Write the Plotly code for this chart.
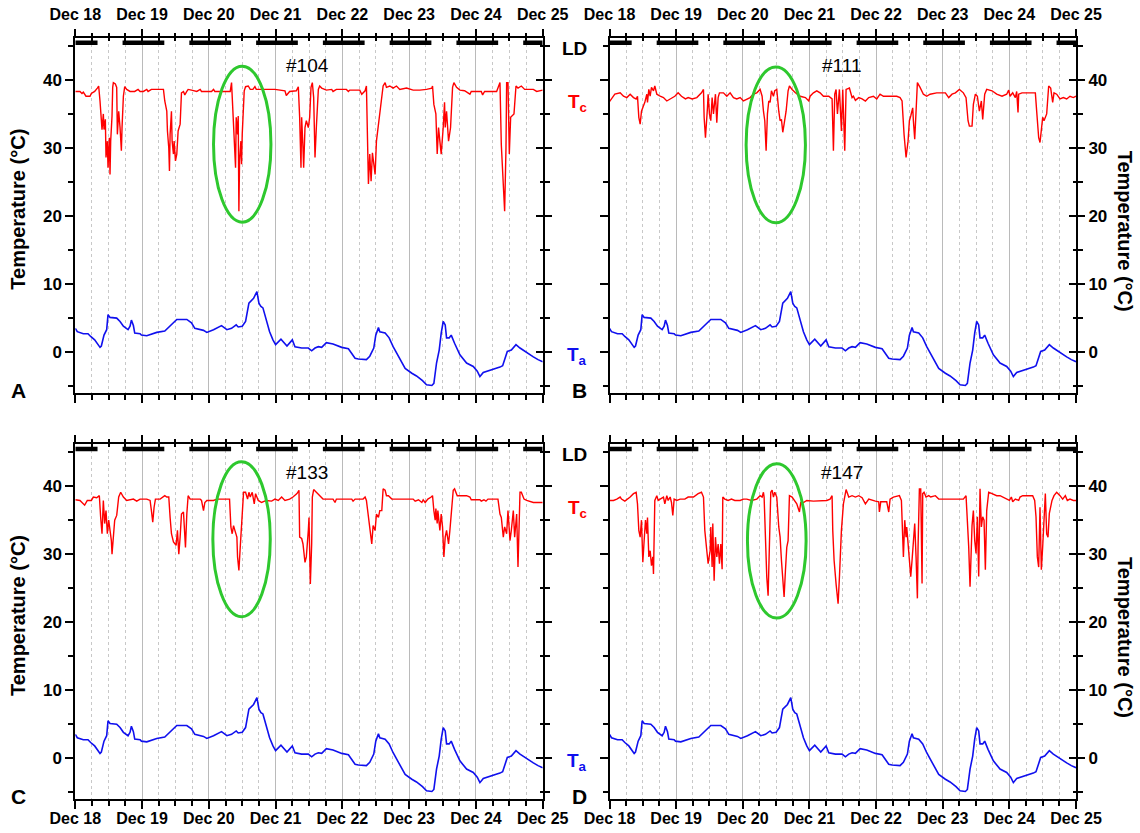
import pandas as pd
import plotly.graph_objects as go

BASE = pd.Timestamp("2012-12-18")
END = pd.Timestamp("2012-12-25")

# ---------------- data ----------------
day_labels = ["Dec 18", "Dec 19", "Dec 20", "Dec 21", "Dec 22", "Dec 23", "Dec 24", "Dec 25"]
temp_ticks = [0, 10, 20, 30, 40]

# light:dark cycle, dark phases (days after Dec 18 00:00)
ld_dark_start = [0.0, 0.708, 1.708, 2.708, 3.708, 4.708, 5.708, 6.708]
ld_dark_end = [0.333, 1.333, 2.333, 3.333, 4.333, 5.333, 6.333, 7.0]

animal_ids = ["#104", "#111", "#133", "#147"]
panel_letters = ["A", "B", "C", "D"]

# ambient temperature Ta (days, deg C)
ta = [(0.00, 3.5), (0.03, 3.0), (0.12, 2.7), (0.19, 2.7), (0.23, 2.3), (0.29, 1.8), (0.37, 0.7), (0.39, 0.9),
      (0.43, 2.5), (0.47, 3.3), (0.49, 5.5), (0.52, 5.1), (0.62, 5.0), (0.67, 4.5), (0.72, 3.8), (0.79, 3.3),
      (0.82, 3.8), (0.84, 4.7), (0.87, 3.9), (0.89, 2.8), (0.97, 2.7), (0.99, 2.5), (1.07, 2.4), (1.22, 2.9),
      (1.34, 3.1), (1.42, 3.8), (1.52, 4.8), (1.67, 4.8), (1.74, 4.3), (1.79, 3.5), (1.92, 3.2), (1.97, 2.9),
      (2.07, 3.3), (2.19, 3.9), (2.27, 3.3), (2.34, 3.5), (2.41, 4.0), (2.44, 3.7), (2.50, 3.8), (2.55, 4.5),
      (2.60, 7.2), (2.67, 7.9), (2.72, 8.9), (2.75, 7.2), (2.78, 6.7), (2.81, 6.5), (2.86, 4.8), (2.91, 3.0),
      (2.96, 1.8), (3.00, 1.1), (3.08, 1.9), (3.14, 1.3), (3.17, 0.9), (3.25, 1.8), (3.29, 0.8), (3.39, 0.6),
      (3.49, 0.6), (3.54, 0.2), (3.59, 0.6), (3.64, 0.8), (3.69, 0.7), (3.76, 1.4), (3.86, 1.2), (3.99, 0.7),
      (4.09, 0.5), (4.19, -0.9), (4.24, -1.0), (4.36, -1.1), (4.41, -0.6), (4.47, 0.6), (4.50, 2.5), (4.54, 3.6),
      (4.56, 3.0), (4.64, 2.8), (4.70, 2.1), (4.76, 0.8), (4.84, -0.6), (4.94, -2.4), (5.04, -3.1), (5.11, -3.5),
      (5.20, -4.2), (5.26, -4.8), (5.34, -4.9), (5.37, -4.6), (5.41, -1.6), (5.45, 0.3), (5.48, 2.8), (5.51, 4.5),
      (5.54, 4.0), (5.56, 2.1), (5.60, 2.1), (5.63, 2.5), (5.68, 1.3), (5.76, -0.4), (5.86, -1.6), (5.96, -2.1),
      (6.02, -2.8), (6.06, -3.6), (6.11, -3.0), (6.18, -2.8), (6.26, -2.6), (6.36, -2.2), (6.40, -2.0), (6.47, 0.1),
      (6.53, 0.3), (6.60, 1.1), (6.66, 0.6), (6.76, -0.1), (6.86, -0.7), (6.93, -1.1), (7.00, -1.4)]

# core body temperature Tc of each animal (days, deg C)
tc_104 = [(0.00, 38.3), (0.07, 38.3), (0.10, 38.0), (0.12, 38.2), (0.16, 37.6), (0.22, 37.6), (0.24, 38.0),
          (0.29, 38.3), (0.33, 38.8), (0.35, 39.1), (0.37, 36.9), (0.39, 34.7), (0.40, 32.7), (0.42, 35.0),
          (0.43, 32.7), (0.45, 34.2), (0.46, 28.6), (0.48, 31.0), (0.49, 27.1), (0.51, 31.5), (0.52, 26.1),
          (0.53, 31.0), (0.55, 34.7), (0.56, 38.9), (0.57, 39.6), (0.60, 39.4), (0.62, 38.9), (0.63, 32.0),
          (0.65, 35.4), (0.67, 33.0), (0.69, 29.6), (0.70, 33.0), (0.72, 37.6), (0.74, 39.0), (0.77, 38.6),
          (0.82, 38.3), (0.89, 38.3), (0.94, 38.6), (0.97, 38.3), (1.02, 38.3), (1.07, 38.6), (1.09, 38.3),
          (1.14, 38.6), (1.32, 38.6), (1.34, 36.9), (1.37, 35.4), (1.38, 32.5), (1.40, 30.0), (1.41, 26.6),
          (1.42, 32.0), (1.44, 35.4), (1.45, 31.0), (1.47, 29.1), (1.48, 31.0), (1.50, 28.1), (1.52, 29.1),
          (1.54, 32.5), (1.57, 33.5), (1.59, 38.1), (1.62, 38.3), (1.64, 37.8), (1.67, 38.3), (1.69, 38.6),
          (1.74, 38.5), (1.82, 38.3), (1.87, 38.6), (1.89, 38.3), (2.04, 38.3), (2.07, 38.6), (2.09, 38.3),
          (2.32, 38.3), (2.34, 39.6), (2.36, 34.5), (2.38, 31.0), (2.40, 27.1), (2.41, 34.5), (2.43, 32.0),
          (2.44, 34.7), (2.45, 20.7), (2.46, 28.1), (2.48, 31.0), (2.49, 27.6), (2.50, 32.0), (2.53, 38.4),
          (2.55, 39.0), (2.59, 39.1), (2.62, 38.6), (2.66, 38.6), (2.69, 39.0), (2.71, 38.6), (2.99, 38.6),
          (3.14, 38.4), (3.16, 37.7), (3.21, 38.3), (3.31, 38.4), (3.34, 39.0), (3.36, 34.5), (3.38, 27.1),
          (3.39, 34.5), (3.41, 30.0), (3.42, 27.1), (3.44, 33.0), (3.46, 34.0), (3.49, 33.0), (3.51, 34.5),
          (3.53, 38.9), (3.55, 39.6), (3.57, 37.4), (3.59, 28.6), (3.61, 33.0), (3.64, 38.6), (3.66, 39.1),
          (3.69, 38.8), (3.76, 38.5), (3.84, 38.6), (3.86, 38.3), (3.91, 38.6), (4.06, 38.6), (4.09, 38.3),
          (4.11, 38.5), (4.26, 38.5), (4.29, 37.9), (4.34, 38.4), (4.36, 39.1), (4.38, 29.6), (4.39, 24.7),
          (4.41, 29.1), (4.43, 25.1), (4.45, 29.3), (4.47, 27.1), (4.49, 26.1), (4.51, 31.0), (4.54, 33.5),
          (4.56, 35.4), (4.59, 37.9), (4.61, 39.1), (4.64, 39.6), (4.66, 38.9), (4.71, 39.1), (4.76, 38.8),
          (4.81, 39.1), (4.86, 38.6), (4.96, 38.8), (5.06, 38.5), (5.16, 38.5), (5.26, 38.6), (5.34, 38.8),
          (5.35, 39.1), (5.37, 36.4), (5.40, 35.0), (5.42, 29.1), (5.44, 33.0), (5.46, 31.0), (5.48, 29.1),
          (5.51, 33.0), (5.53, 36.7), (5.54, 33.0), (5.56, 35.4), (5.59, 31.0), (5.62, 33.0), (5.65, 38.9),
          (5.67, 39.6), (5.71, 38.9), (5.76, 38.5), (5.83, 38.4), (5.91, 37.9), (5.93, 38.3), (6.08, 38.3),
          (6.10, 37.8), (6.13, 38.3), (6.31, 38.3), (6.36, 39.6), (6.38, 30.5), (6.41, 25.6), (6.43, 20.7),
          (6.45, 30.0), (6.46, 39.6), (6.48, 39.6), (6.50, 29.1), (6.52, 34.5), (6.54, 34.7), (6.57, 35.0),
          (6.60, 39.1), (6.63, 38.8), (6.68, 39.1), (6.73, 38.6), (6.86, 38.6), (6.91, 38.3), (7.00, 38.5)]

tc_111 = [(0.00, 36.8), (0.03, 37.2), (0.08, 37.9), (0.16, 38.1), (0.21, 37.6), (0.26, 37.4), (0.31, 37.9),
          (0.36, 37.4), (0.40, 37.2), (0.42, 37.6), (0.44, 34.5), (0.46, 33.5), (0.48, 35.4), (0.51, 36.2),
          (0.53, 36.7), (0.56, 37.9), (0.57, 36.7), (0.59, 38.6), (0.61, 37.6), (0.63, 38.9), (0.66, 38.4),
          (0.68, 39.1), (0.71, 37.9), (0.76, 37.6), (0.81, 37.4), (0.86, 36.9), (0.91, 37.2), (0.98, 37.6),
          (1.03, 38.1), (1.08, 37.6), (1.14, 37.2), (1.18, 37.4), (1.24, 37.2), (1.31, 37.4), (1.38, 38.1),
          (1.41, 38.6), (1.42, 34.5), (1.44, 31.5), (1.47, 35.9), (1.48, 37.9), (1.50, 35.0), (1.52, 34.0),
          (1.54, 37.4), (1.56, 35.0), (1.59, 37.9), (1.61, 33.7), (1.63, 37.4), (1.65, 38.1), (1.71, 38.1),
          (1.76, 37.6), (1.81, 38.1), (1.86, 37.4), (1.91, 37.2), (1.96, 37.4), (2.01, 36.9), (2.06, 37.2),
          (2.11, 37.4), (2.16, 37.9), (2.21, 38.1), (2.26, 38.6), (2.29, 37.6), (2.31, 35.4), (2.33, 34.0),
          (2.35, 29.6), (2.37, 35.0), (2.39, 36.9), (2.41, 36.7), (2.43, 38.4), (2.46, 37.6), (2.48, 38.4),
          (2.51, 38.6), (2.54, 35.4), (2.56, 34.0), (2.58, 34.2), (2.60, 32.3), (2.62, 33.5), (2.65, 35.4),
          (2.68, 38.4), (2.70, 39.1), (2.74, 38.6), (2.79, 38.1), (2.86, 37.6), (2.94, 37.4), (2.99, 36.9),
          (3.01, 37.6), (3.06, 38.1), (3.11, 38.4), (3.16, 38.1), (3.21, 37.6), (3.29, 37.6), (3.34, 37.2),
          (3.36, 29.6), (3.38, 37.9), (3.40, 38.6), (3.42, 35.0), (3.45, 38.6), (3.48, 32.5), (3.50, 38.6),
          (3.53, 29.6), (3.55, 38.6), (3.60, 38.8), (3.64, 37.4), (3.66, 37.6), (3.69, 37.0), (3.74, 37.4),
          (3.79, 37.2), (3.84, 36.9), (3.89, 37.4), (3.96, 37.6), (4.01, 37.2), (4.06, 37.9), (4.11, 37.6),
          (4.21, 37.6), (4.31, 37.6), (4.36, 37.4), (4.39, 36.9), (4.42, 32.0), (4.45, 28.6), (4.48, 31.0),
          (4.50, 34.0), (4.52, 34.7), (4.55, 35.9), (4.56, 34.0), (4.58, 31.3), (4.60, 35.4), (4.62, 39.6),
          (4.66, 38.9), (4.71, 37.9), (4.76, 37.6), (4.81, 37.9), (4.91, 38.1), (5.04, 38.1), (5.09, 37.4),
          (5.14, 37.9), (5.19, 38.1), (5.25, 38.6), (5.31, 38.1), (5.35, 37.4), (5.38, 34.0), (5.40, 33.2),
          (5.44, 33.2), (5.46, 36.4), (5.49, 37.9), (5.52, 37.6), (5.55, 35.4), (5.58, 36.9), (5.60, 34.2),
          (5.63, 37.9), (5.66, 38.6), (5.74, 38.4), (5.81, 37.9), (5.89, 37.6), (5.96, 37.9), (5.99, 38.5),
          (6.01, 37.6), (6.05, 38.1), (6.09, 37.4), (6.11, 38.3), (6.13, 35.2), (6.14, 37.9), (6.19, 38.1),
          (6.39, 38.1), (6.41, 35.4), (6.44, 31.5), (6.46, 30.8), (6.48, 32.5), (6.50, 34.5), (6.52, 34.0),
          (6.54, 34.7), (6.56, 35.0), (6.59, 39.1), (6.62, 38.8), (6.65, 36.7), (6.67, 38.1), (6.71, 37.9),
          (6.76, 37.2), (6.81, 37.4), (6.86, 37.2), (6.91, 37.6), (6.96, 37.4), (7.00, 37.6)]

tc_133 = [(0.00, 38.0), (0.07, 37.9), (0.14, 37.2), (0.18, 37.9), (0.24, 37.9), (0.27, 38.4), (0.32, 38.3),
          (0.36, 38.6), (0.38, 35.4), (0.40, 33.0), (0.42, 37.9), (0.44, 34.5), (0.46, 36.4), (0.48, 33.0),
          (0.50, 35.0), (0.52, 33.5), (0.54, 32.0), (0.55, 30.0), (0.57, 32.0), (0.59, 35.0), (0.62, 35.7),
          (0.65, 38.4), (0.68, 39.1), (0.72, 38.4), (0.77, 37.9), (0.87, 38.1), (0.92, 37.8), (0.97, 38.1),
          (1.07, 38.1), (1.12, 37.9), (1.14, 36.4), (1.16, 34.7), (1.18, 36.9), (1.20, 38.1), (1.27, 38.1),
          (1.31, 38.4), (1.34, 38.6), (1.37, 38.4), (1.40, 38.4), (1.42, 35.4), (1.44, 33.0), (1.47, 31.8),
          (1.51, 31.3), (1.53, 33.5), (1.55, 30.0), (1.57, 32.5), (1.59, 35.9), (1.62, 36.2), (1.63, 34.5),
          (1.65, 31.0), (1.67, 35.9), (1.69, 38.6), (1.72, 38.1), (1.87, 38.1), (1.89, 37.9), (1.92, 36.4),
          (1.94, 37.6), (1.97, 37.9), (2.07, 37.9), (2.12, 38.1), (2.31, 38.1), (2.33, 34.0), (2.35, 33.0),
          (2.37, 34.2), (2.39, 33.5), (2.42, 32.5), (2.43, 29.6), (2.45, 27.6), (2.47, 31.0), (2.49, 34.5),
          (2.52, 39.1), (2.55, 39.1), (2.58, 38.1), (2.60, 39.1), (2.62, 38.4), (2.65, 39.1), (2.68, 37.4),
          (2.70, 38.9), (2.74, 37.9), (2.79, 37.6), (2.86, 37.9), (2.94, 37.8), (2.99, 38.1), (3.04, 37.9),
          (3.09, 38.4), (3.14, 37.9), (3.21, 38.1), (3.26, 38.4), (3.32, 38.9), (3.35, 39.4), (3.36, 32.5),
          (3.39, 32.3), (3.41, 31.5), (3.44, 28.8), (3.46, 29.6), (3.49, 33.5), (3.50, 35.4), (3.52, 25.6),
          (3.54, 31.5), (3.55, 38.4), (3.57, 39.5), (3.61, 39.1), (3.66, 38.6), (3.71, 38.1), (3.86, 38.1),
          (3.89, 37.6), (3.91, 38.1), (4.14, 38.1), (4.16, 37.8), (4.19, 38.1), (4.31, 38.1), (4.34, 38.4),
          (4.36, 37.9), (4.39, 35.4), (4.41, 33.7), (4.44, 31.5), (4.46, 34.2), (4.49, 33.5), (4.51, 35.9),
          (4.54, 35.4), (4.56, 36.4), (4.59, 36.4), (4.61, 39.6), (4.64, 39.4), (4.66, 38.6), (4.69, 38.6),
          (4.74, 38.1), (4.86, 38.1), (5.06, 38.1), (5.09, 37.8), (5.14, 38.0), (5.19, 37.6), (5.21, 38.0),
          (5.24, 37.6), (5.28, 38.1), (5.33, 38.4), (5.35, 38.6), (5.37, 36.4), (5.39, 35.0), (5.40, 36.7),
          (5.42, 34.5), (5.43, 36.4), (5.46, 33.5), (5.48, 35.9), (5.50, 34.0), (5.52, 29.6), (5.54, 32.5),
          (5.56, 33.5), (5.59, 31.5), (5.61, 33.5), (5.63, 35.9), (5.66, 39.4), (5.68, 39.6), (5.72, 38.6),
          (5.86, 38.6), (5.91, 38.4), (5.93, 38.0), (6.06, 38.0), (6.08, 37.8), (6.12, 38.0), (6.15, 37.8),
          (6.18, 38.1), (6.33, 38.1), (6.36, 35.9), (6.38, 35.4), (6.41, 32.5), (6.43, 34.0), (6.46, 33.0),
          (6.48, 36.4), (6.51, 32.0), (6.53, 33.5), (6.56, 36.4), (6.58, 32.5), (6.61, 35.9), (6.63, 28.1),
          (6.66, 39.1), (6.68, 39.1), (6.72, 38.1), (6.76, 37.9), (6.86, 37.6), (7.00, 37.6)]

tc_147 = [(0.00, 37.9), (0.06, 37.9), (0.11, 38.1), (0.16, 38.4), (0.18, 38.1), (0.23, 37.8), (0.31, 38.4),
          (0.36, 38.9), (0.40, 39.1), (0.42, 37.4), (0.44, 33.5), (0.46, 32.5), (0.48, 35.0), (0.50, 28.8),
          (0.52, 32.0), (0.54, 35.0), (0.56, 33.0), (0.57, 35.4), (0.59, 29.6), (0.61, 30.5), (0.63, 28.3),
          (0.65, 29.6), (0.66, 27.1), (0.68, 37.9), (0.71, 38.6), (0.73, 37.9), (0.76, 38.1), (0.81, 38.4),
          (0.83, 37.4), (0.86, 38.6), (0.88, 37.9), (0.91, 38.4), (0.93, 37.6), (0.95, 35.7), (0.97, 38.1),
          (1.01, 37.9), (1.06, 38.1), (1.13, 38.1), (1.18, 38.4), (1.26, 38.4), (1.33, 38.9), (1.38, 39.1),
          (1.41, 38.4), (1.43, 33.5), (1.46, 30.5), (1.48, 28.6), (1.51, 30.5), (1.52, 34.0), (1.54, 28.1),
          (1.55, 34.5), (1.57, 26.1), (1.59, 32.5), (1.61, 29.6), (1.63, 31.5), (1.65, 28.6), (1.67, 31.5),
          (1.69, 27.8), (1.70, 38.4), (1.73, 38.1), (1.78, 37.9), (1.83, 38.1), (1.88, 37.9), (1.96, 37.9),
          (2.01, 38.1), (2.06, 38.1), (2.13, 37.9), (2.21, 38.1), (2.26, 38.6), (2.29, 38.4), (2.31, 39.1),
          (2.32, 38.4), (2.34, 32.0), (2.36, 26.6), (2.38, 23.9), (2.40, 30.5), (2.42, 39.1), (2.44, 39.4),
          (2.46, 38.4), (2.48, 39.1), (2.51, 38.4), (2.54, 34.0), (2.56, 32.5), (2.58, 29.1), (2.60, 26.1),
          (2.62, 23.7), (2.64, 27.6), (2.66, 31.0), (2.68, 32.0), (2.70, 38.6), (2.74, 38.4), (2.76, 38.1),
          (2.81, 37.4), (2.85, 36.2), (2.87, 37.6), (2.91, 37.6), (2.96, 37.9), (3.06, 37.8), (3.16, 37.8),
          (3.26, 37.9), (3.31, 38.1), (3.34, 38.6), (3.35, 33.5), (3.37, 29.1), (3.40, 25.6), (3.43, 22.7),
          (3.45, 26.6), (3.48, 33.5), (3.51, 37.4), (3.55, 39.5), (3.59, 38.4), (3.64, 38.6), (3.69, 38.4),
          (3.74, 38.6), (3.79, 38.3), (3.84, 37.4), (3.89, 38.1), (3.94, 37.9), (3.99, 37.8), (4.04, 37.7),
          (4.05, 36.2), (4.07, 37.7), (4.16, 37.7), (4.19, 36.2), (4.21, 38.1), (4.26, 38.4), (4.31, 38.5),
          (4.35, 38.6), (4.38, 37.9), (4.39, 34.5), (4.41, 29.6), (4.43, 35.0), (4.45, 32.5), (4.46, 34.0),
          (4.48, 31.6), (4.50, 29.6), (4.52, 26.7), (4.54, 29.1), (4.56, 32.0), (4.58, 34.5), (4.60, 29.6),
          (4.62, 23.5), (4.63, 31.1), (4.65, 39.6), (4.67, 39.6), (4.69, 25.7), (4.70, 38.9), (4.72, 39.1),
          (4.75, 38.4), (4.79, 38.6), (4.82, 38.4), (4.89, 38.6), (4.94, 38.1), (5.01, 38.1), (5.16, 38.1),
          (5.31, 38.1), (5.35, 38.6), (5.37, 35.0), (5.39, 31.1), (5.41, 25.2), (5.43, 30.6), (5.44, 34.2),
          (5.46, 36.4), (5.48, 32.0), (5.50, 30.1), (5.52, 35.5), (5.54, 26.7), (5.56, 39.6), (5.58, 34.0),
          (5.60, 35.5), (5.62, 35.0), (5.64, 27.7), (5.66, 36.4), (5.69, 39.1), (5.74, 38.9), (5.81, 38.6),
          (5.86, 38.6), (5.96, 38.1), (6.00, 37.9), (6.03, 38.4), (6.05, 37.7), (6.09, 38.1), (6.14, 37.9),
          (6.16, 38.4), (6.20, 38.6), (6.26, 38.6), (6.35, 38.6), (6.38, 37.9), (6.40, 35.5), (6.42, 29.6),
          (6.44, 28.1), (6.46, 36.9), (6.48, 27.7), (6.50, 31.1), (6.52, 35.0), (6.54, 38.9), (6.56, 33.0),
          (6.58, 32.5), (6.60, 36.0), (6.62, 36.9), (6.64, 37.9), (6.67, 38.6), (6.71, 39.1), (6.76, 38.6),
          (6.80, 38.1), (6.84, 38.6), (6.87, 37.9), (6.91, 38.1), (6.96, 37.9), (7.00, 37.9)]

tc_series = [tc_104, tc_111, tc_133, tc_147]

# ---------------- styling / layout ----------------
W, H = 1140, 833
FONT = "Liberation Sans, Arial, sans-serif"
RED = "#FF0000"
BLUE = "#1010EE"
GREEN = "#2EC82E"
Y_RANGE = [-6.05, 46.2]
LD_LEVEL = 45.45


def to_dt(days):
    return [BASE + pd.Timedelta(days=d) for d in days]


def px_x(p):
    return p / W


def px_y(p):
    return 1 - p / H


def label(text, x, y, size, color="black", weight="bold", angle=0):
    return dict(text=text, x=px_x(x), y=px_y(y), xref="paper", yref="paper", showarrow=False,
                xanchor="center", yanchor="middle", textangle=angle,
                font=dict(family=FONT, size=size, color=color, weight=weight))


# pixel frames of the four panels: (left, right, top, bottom)
frames = [(75.3, 542.7, 37.7, 393.3), (609.5, 1076.0, 37.7, 393.3),
          (75.3, 542.7, 444.0, 799.3), (609.5, 1076.0, 444.0, 799.3)]
# green highlight ellipses (day0, day1, temp0, temp1)
ellipses = [(2.07, 2.93, 19.1, 42.0), (2.05, 2.94, 19.0, 41.9),
            (2.06, 2.92, 20.8, 43.6), (2.07, 2.95, 20.6, 43.3)]

day_ticks = to_dt(range(len(day_labels)))
tickfont = dict(family=FONT, size=16, color="black", weight="bold")
SIX_H = 6 * 3600 * 1000

fig = go.Figure()
layout = dict(template="none", width=W, height=H, margin=dict(l=0, r=0, t=0, b=0, pad=0),
              plot_bgcolor="white", paper_bgcolor="white", showlegend=False,
              font=dict(family=FONT, color="black"), shapes=[], annotations=[])

for i in range(4):
    n = 3 * i + 1
    xs = ["x" if n == 1 else f"x{n}", f"x{n+1}", f"x{n+2}"]
    ys = ["y" if n == 1 else f"y{n}", f"y{n+1}", f"y{n+2}"]
    xk = ["xaxis" if n == 1 else f"xaxis{n}", f"xaxis{n+1}", f"xaxis{n+2}"]
    yk = ["yaxis" if n == 1 else f"yaxis{n}", f"yaxis{n+1}", f"yaxis{n+2}"]
    l, r, t, b = frames[i]
    xdom = [px_x(l), px_x(r)]
    ydom = [px_y(b), px_y(t)]
    top_row = i < 2
    left_col = i % 2 == 0

    common_x = dict(type="date", range=[BASE, END], domain=xdom, fixedrange=True, automargin=False,
                    tickmode="array", tickvals=day_ticks, ticktext=day_labels,
                    tickfont=tickfont, tickcolor="black", tickwidth=2, zeroline=False)
    # bottom axis with grid
    layout[xk[0]] = dict(common_x, anchor=ys[0], side="bottom", showline=True, linecolor="black",
                         linewidth=2, ticks="outside", ticklen=8, showticklabels=not top_row,
                         ticklabelstandoff=-5,
                         showgrid=True, gridcolor="#BABABA", gridwidth=1,
                         minor=dict(tickmode="linear", tick0=BASE, dtick=SIX_H, ticks="outside",
                                    ticklen=5, tickwidth=2, tickcolor="black", showgrid=True,
                                    gridcolor="#C8C8C8", griddash="dot", gridwidth=1))
    # top axis (outside ticks + labels)
    layout[xk[1]] = dict(common_x, anchor=ys[0], overlaying=xs[0], side="top", showline=True,
                         linecolor="black", linewidth=2, ticks="outside", ticklen=7,
                         showticklabels=top_row, showgrid=False, ticklabelstandoff=2,
                         minor=dict(tickmode="linear", tick0=BASE, dtick=SIX_H, ticks="outside",
                                    ticklen=3, tickwidth=2, tickcolor="black", showgrid=False))
    # top axis (inside ticks)
    layout[xk[2]] = dict(common_x, anchor=ys[0], overlaying=xs[0], side="top", showline=False,
                         ticks="inside", ticklen=5, showticklabels=False, showgrid=False,
                         minor=dict(tickmode="linear", tick0=BASE, dtick=SIX_H, ticks="inside",
                                    ticklen=3, tickwidth=2, tickcolor="black", showgrid=False))

    common_y = dict(range=Y_RANGE, domain=ydom, fixedrange=True, automargin=False, tickmode="array",
                    tickvals=temp_ticks, tickfont=dict(tickfont, size=17), tickcolor="black",
                    tickwidth=2, zeroline=False, showgrid=False)
    layout[yk[0]] = dict(common_y, anchor=xs[0], side="left", showline=True, linecolor="black",
                         linewidth=2, ticks="outside", ticklen=8, showticklabels=left_col,
                         minor=dict(tickmode="linear", tick0=0, dtick=5, ticks="outside", ticklen=5,
                                    tickwidth=2, tickcolor="black"))
    layout[yk[1]] = dict(common_y, anchor=xs[0], overlaying=ys[0], side="right", showline=True,
                         linecolor="black", linewidth=2, ticks="outside", ticklen=7,
                         showticklabels=not left_col,
                         minor=dict(tickmode="linear", tick0=0, dtick=5, ticks="outside", ticklen=5,
                                    tickwidth=2, tickcolor="black"))
    layout[yk[2]] = dict(common_y, anchor=xs[0], overlaying=ys[0], side="right", showline=False,
                         ticks="inside", ticklen=7, showticklabels=False,
                         minor=dict(tickmode="linear", tick0=0, dtick=5, ticks="inside", ticklen=3,
                                    tickwidth=2, tickcolor="black"))

    # traces (all axes share identical ranges; overlay axes host Ta and LD)
    tc_days, tc_vals = zip(*tc_series[i])
    ta_days, ta_vals = zip(*ta)
    fig.add_trace(go.Scatter(x=to_dt(tc_days), y=tc_vals, mode="lines", xaxis=xs[0], yaxis=ys[0],
                             line=dict(color=RED, width=1.4), name="Tc " + animal_ids[i],
                             hoverinfo="skip"))
    fig.add_trace(go.Scatter(x=to_dt(ta_days), y=ta_vals, mode="lines", xaxis=xs[2], yaxis=ys[2],
                             line=dict(color=BLUE, width=1.6), name="Ta", hoverinfo="skip"))
    ldx, ldy = [], []
    for s, e in zip(ld_dark_start, ld_dark_end):
        ldx += [BASE + pd.Timedelta(days=s), BASE + pd.Timedelta(days=e), None]
        ldy += [LD_LEVEL, LD_LEVEL, None]
    fig.add_trace(go.Scatter(x=ldx, y=ldy, mode="lines", xaxis=xs[1], yaxis=ys[1],
                             line=dict(color="black", width=4.5), name="LD", hoverinfo="skip"))

    d0, d1, t0, t1 = ellipses[i]
    layout["shapes"].append(dict(type="circle", xref=xs[0], yref=ys[0],
                                 x0=BASE + pd.Timedelta(days=d0), x1=BASE + pd.Timedelta(days=d1),
                                 y0=t0, y1=t1, line=dict(color=GREEN, width=3)))

    # panel texts
    ann = layout["annotations"]
    ann.append(label(animal_ids[i], l + 232, t + 28, 19, weight="normal"))
    ann.append(label(panel_letters[i], 18 if left_col else 579, b - 3, 21))
    if left_col:
        ann.append(label("Temperature (°C)", 18, t + 172, 20, angle=-90))
    else:
        ann.append(label("Temperature (°C)", 1125, t + 193, 20, angle=90))

# row labels between panels
for row_top in (37.7, 444.0):
    ann = layout["annotations"]
    ann.append(label("LD", 574, row_top + 10.5, 19))
    ann.append(label("T<sub>c</sub>", 577, row_top + 65, 19, color=RED))
    ann.append(label("T<sub>a</sub>", 577, row_top + 318, 19, color=BLUE))

fig.update_layout(**layout)
fig.write_html("out.html", post_script="document.body.style.margin='0';",
               config={"displayModeBar": False})
